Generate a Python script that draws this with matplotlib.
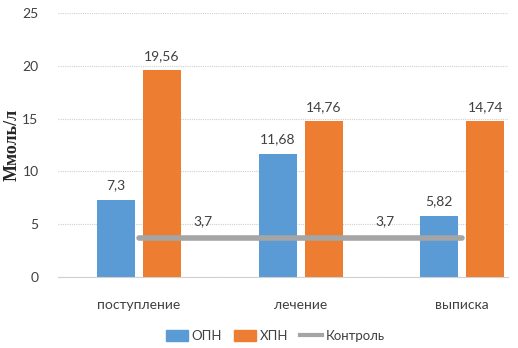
import matplotlib
matplotlib.use("Agg")
import matplotlib.pyplot as plt
import numpy as np
from matplotlib.lines import Line2D
from matplotlib.patches import Patch

plt.rcParams['font.family'] = ['Lato', 'DejaVu Sans']

# data
stages = ['поступление', 'лечение', 'выписка']
opn = [7.3, 11.68, 5.82]
hpn = [19.56, 14.76, 14.74]
control = [3.7, 3.7, 3.7]
control_labels = ['3,7', '3,7']

blue = '#5b9bd5'
orange = '#ed7d31'
grey = '#a5a5a5'
text_col = '#404040'

fig = plt.figure(figsize=(5.18, 3.48), dpi=100)
ax = fig.add_axes([0.112, 0.204, 0.869, 0.759])

x = np.arange(len(stages))
w = 0.235
off = 0.142

b1 = ax.bar(x - off, opn, w, color=blue, zorder=2)
b2 = ax.bar(x + off, hpn, w, color=orange, zorder=2)

def fmt(v):
    return ('%g' % v).replace('.', ',')

for rect, v in zip(list(b1) + list(b2), opn + hpn):
    ax.annotate(fmt(v), (rect.get_x() + rect.get_width() / 2, v),
                xytext=(0, 6), textcoords='offset points',
                ha='center', va='bottom', fontsize=10, color=text_col)

ax.plot(x, control, color=grey, lw=4, solid_capstyle='round', zorder=3)
for xi, lab in zip([0.395, 1.52], control_labels):
    ax.annotate(lab, (xi, control[0]), xytext=(0, 8), textcoords='offset points',
                ha='center', va='bottom', fontsize=10, color=text_col)

ax.set_xlim(-0.5, 2.284)
ax.set_ylim(0, 25)
ax.set_yticks(range(0, 26, 5))
ax.set_xticks(x)
ax.set_xticklabels(stages, fontsize=10, color=text_col)
ax.tick_params(axis='y', labelsize=10, colors=text_col, length=0, pad=14)
ax.tick_params(axis='x', length=0, pad=16)
ax.grid(axis='y', color='#d0d0d0', ls=(0, (1, 1)), lw=0.8, zorder=0)
for s in ['top', 'right', 'left']:
    ax.spines[s].set_visible(False)
ax.spines['bottom'].set_color('#d0d0d0')

fig.text(0.024, 0.583, 'Ммоль/л', rotation=90, ha='center', va='center',
         family='Liberation Serif', fontweight='bold', fontsize=13, color='#262626')

handles = [Patch(color=blue, label='ОПН'), Patch(color=orange, label='ХПН'),
           Line2D([0], [0], color=grey, lw=3, label='Контроль')]
fig.legend(handles=handles, loc='center', bbox_to_anchor=(0.531, 0.035), ncol=3,
           frameon=False, fontsize=9.5, handlelength=1.7, handleheight=0.9,
           columnspacing=0.9, handletextpad=0.25, labelcolor=text_col)

fig.savefig('out.png', dpi=100)
